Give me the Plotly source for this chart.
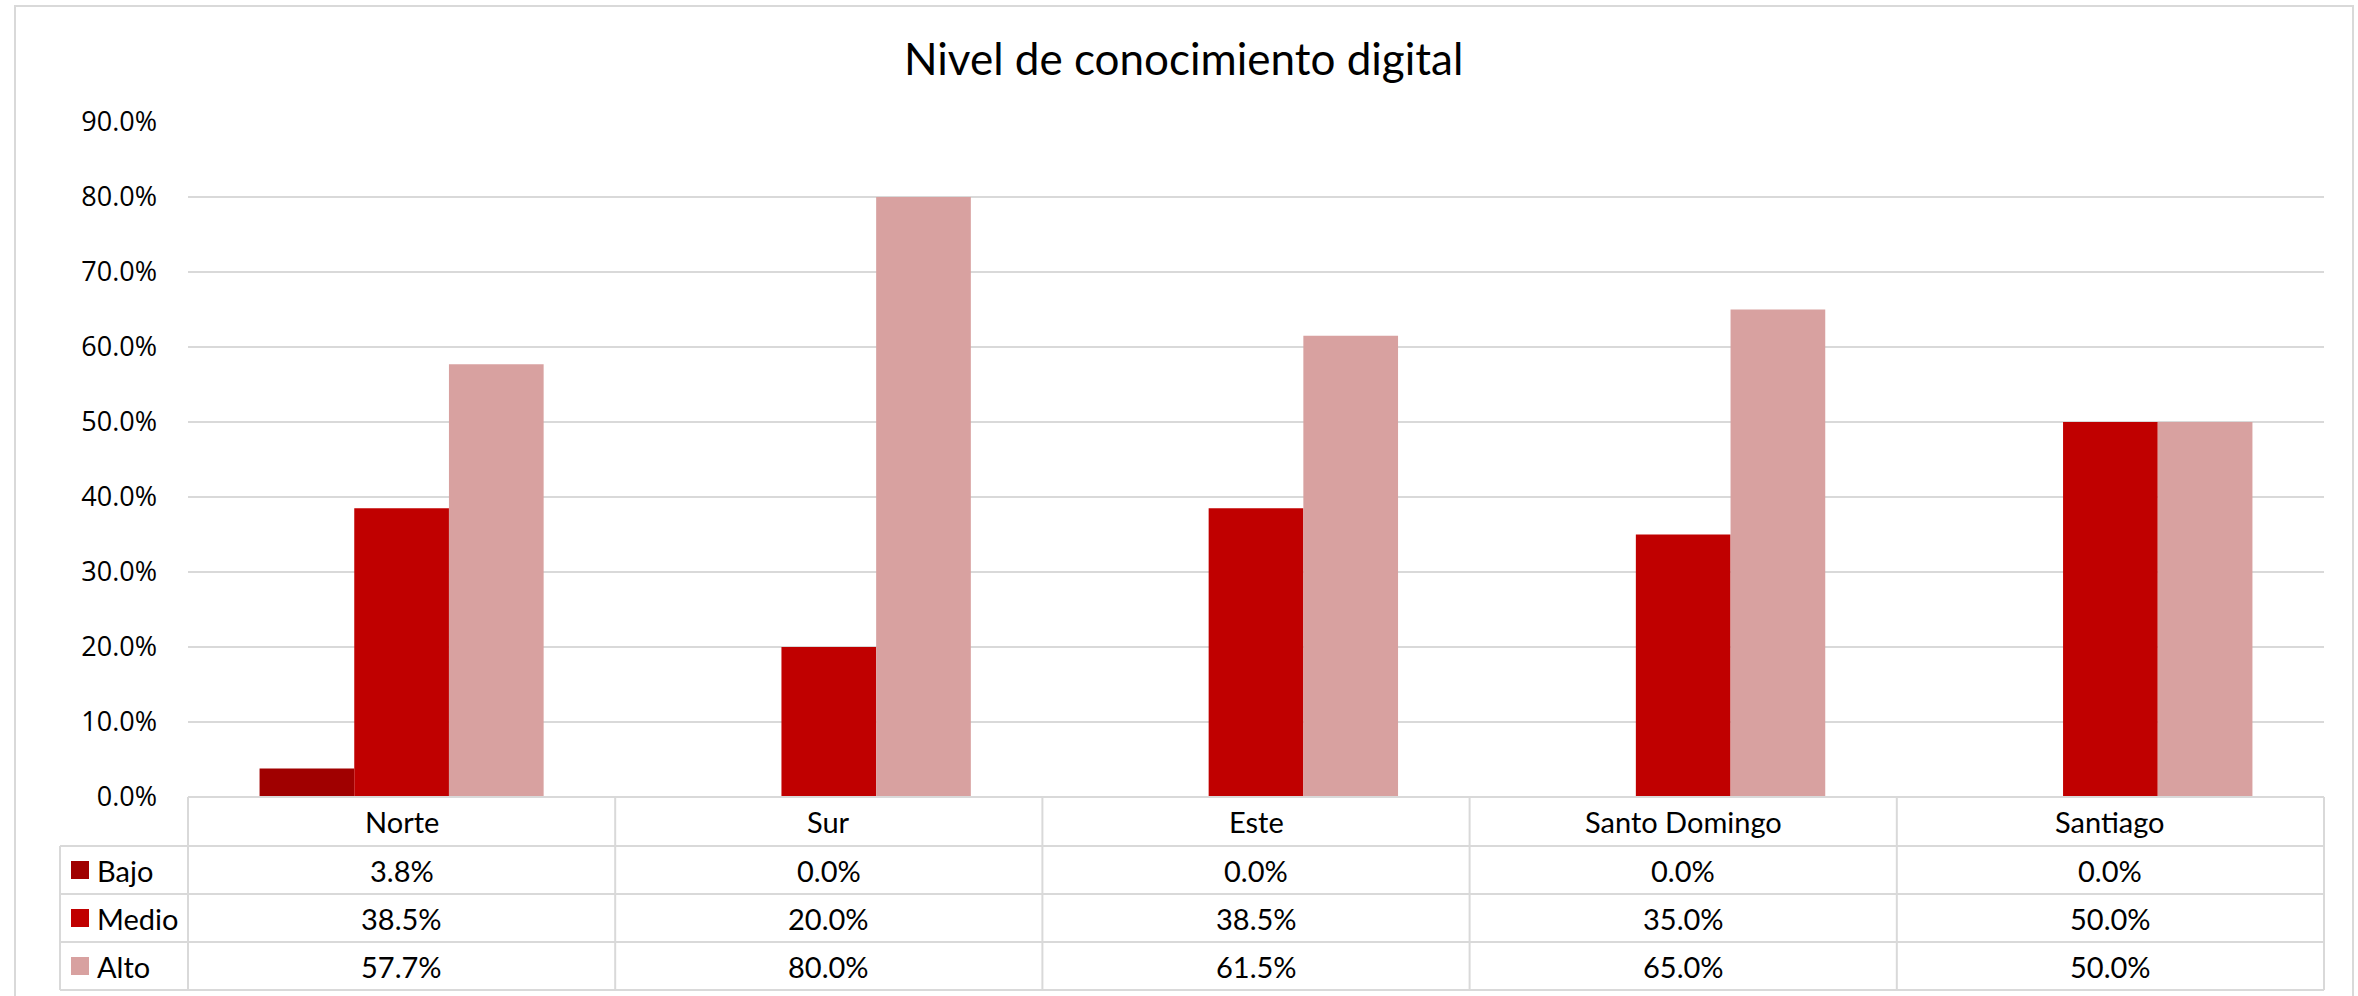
import plotly.graph_objects as go

# Datos: nivel de conocimiento digital por región
regiones = ["Norte", "Sur", "Este", "Santo Domingo", "Santiago"]
niveles = ["Bajo", "Medio", "Alto"]
bajo = [0.038, 0.0, 0.0, 0.0, 0.0]
medio = [0.385, 0.20, 0.385, 0.35, 0.50]
alto = [0.577, 0.80, 0.615, 0.65, 0.50]
valores = [bajo, medio, alto]
colores = ["#a00000", "#c00000", "#d8a1a0"]

titulo = "Nivel de conocimiento digital"
y_ticks = [0.0, 0.1, 0.2, 0.3, 0.4, 0.5, 0.6, 0.7, 0.8, 0.9]

# Geometría de la figura (px)
W, H = 2358, 996
L, R, T, B = 188, 2324, 122, 797
PW, PH = R - L, B - T


def px(x):
    return (x - L) / PW


def py(y):
    return (B - y) / PH


GRID = "#d9d9d9"
FONT_TXT = "Lato"
FONT_AX = "Open Sans"

fig = go.Figure()
for nombre, vals, col in zip(niveles, valores, colores):
    fig.add_trace(go.Bar(x=regiones, y=vals, name=nombre, marker_color=col,
                         marker_line_width=0))

fig.update_layout(
    width=W, height=H,
    margin=dict(l=L, r=W - R, t=T, b=H - B, pad=0),
    paper_bgcolor="white", plot_bgcolor="white",
    barmode="group", bargap=0.335, bargroupgap=0,
    showlegend=False,
    xaxis=dict(showticklabels=False, showgrid=False, showline=False,
               zeroline=False, ticks=""),
    yaxis=dict(range=[0, 0.9], tickvals=y_ticks, tickformat=".1%",
               showgrid=True, gridcolor=GRID, gridwidth=2, zeroline=False,
               showline=False, ticks="", ticklabelstandoff=30,
               tickfont=dict(family=FONT_AX, size=27, color="#000000")),
)

shapes = []
annots = []

# Marco exterior del gráfico
shapes.append(dict(type="rect", xref="paper", yref="paper",
                   x0=px(15), x1=px(2353), y0=py(1010), y1=py(6),
                   line=dict(color=GRID, width=2), fillcolor="rgba(0,0,0,0)",
                   layer="below"))

# Tabla de datos bajo el eje
filas = [797, 846, 894, 942, 990]
leg_x = 60
shapes.append(dict(type="line", xref="paper", yref="paper",
                   x0=0, x1=1, y0=py(filas[0]), y1=py(filas[0]),
                   line=dict(color=GRID, width=2)))
for fy in filas[1:]:
    shapes.append(dict(type="line", xref="paper", yref="paper",
                       x0=px(leg_x), x1=1, y0=py(fy), y1=py(fy),
                       line=dict(color=GRID, width=2)))
n = len(regiones)
for i in range(n + 1):
    shapes.append(dict(type="line", xref="paper", yref="paper",
                       x0=i / n, x1=i / n, y0=py(filas[0]), y1=py(filas[-1]),
                       line=dict(color=GRID, width=2)))
shapes.append(dict(type="line", xref="paper", yref="paper",
                   x0=px(leg_x), x1=px(leg_x), y0=py(filas[1]), y1=py(filas[-1]),
                   line=dict(color=GRID, width=2)))

# Encabezados de región
yc_head = (filas[0] + filas[1]) / 2
for i, reg in enumerate(regiones):
    annots.append(dict(x=(i + 0.5) / n, y=py(yc_head), xref="paper", yref="paper",
                       text=reg, showarrow=False, xanchor="center", yanchor="middle",
                       font=dict(family=FONT_TXT, size=29, color="#000000")))

# Filas por nivel: clave de color, nombre y valores
for k, (nombre, vals, col) in enumerate(zip(niveles, valores, colores)):
    yc = (filas[k + 1] + filas[k + 2]) / 2
    shapes.append(dict(type="rect", xref="paper", yref="paper",
                       x0=px(71), x1=px(89), y0=py(yc + 9), y1=py(yc - 9),
                       fillcolor=col, line=dict(width=0)))
    annots.append(dict(x=px(95), y=py(yc), xref="paper", yref="paper",
                       text=nombre, showarrow=False, xanchor="left", yanchor="middle",
                       font=dict(family=FONT_TXT, size=29, color="#000000")))
    for i, v in enumerate(vals):
        annots.append(dict(x=(i + 0.5) / n, y=py(yc), xref="paper", yref="paper",
                           text=f"{v * 100:.1f}%", showarrow=False,
                           xanchor="center", yanchor="middle",
                           font=dict(family=FONT_TXT, size=29, color="#000000")))

# Título
annots.append(dict(x=px(1183), y=py(58), xref="paper", yref="paper",
                   text=titulo, showarrow=False, xanchor="center", yanchor="middle",
                   font=dict(family=FONT_TXT, size=44, color="#000000")))

fig.update_layout(shapes=shapes, annotations=annots)
fig.write_html("out.html")
